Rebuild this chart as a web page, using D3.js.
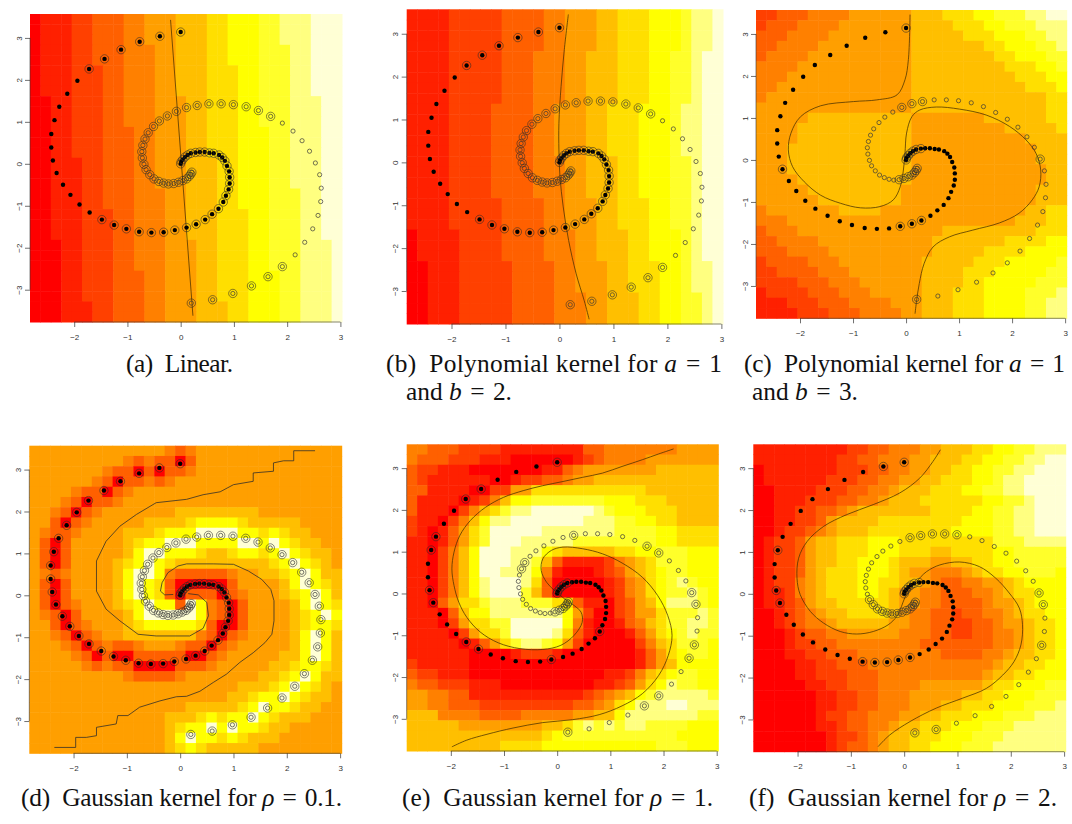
<!DOCTYPE html>
<html>
<head>
<meta charset="utf-8">
<script src="https://cdn.jsdelivr.net/npm/d3@7"></script>
<style>
body { margin: 0; background: #fff; }
.tick text { font-family: "Liberation Sans", Arial, sans-serif; font-size: 8px; fill: #333; }
.tick line { stroke: #333; stroke-width: 0.7; }
.cap { font-family: "Liberation Serif", "Times New Roman", serif; fill: #111; }
</style>
</head>
<body>
<svg id="fig" width="1072" height="824"></svg>
<script>
// R heat.colors(12), the palette image() uses
var heat = ["#FF0000","#FF2000","#FF4000","#FF6000","#FF8000","#FF9F00","#FFBF00","#FFDF00","#FFFF00","#FFFF2A","#FFFF80","#FFFFD5"];
var xExtent = [-2.83, 3.03];
var yExtent = [-3.77, 3.57];
var xTicks = [-2, -1, 0, 1, 2, 3];
var yTicks = [-3, -2, -1, 0, 1, 2, 3];

// class +1 spiral (filled dots), outer end first
var blackX = [0.00,-0.39,-0.77,-1.12,-1.43,-1.72,-1.94,-2.13,-2.28,-2.37,-2.43,-2.43,-2.40,-2.33,-2.21,-2.07,-1.90,-1.71,-1.48,-1.25,-1.02,-0.78,-0.55,-0.32,-0.11,0.11,0.29,0.46,0.59,0.71,0.80,0.85,0.90,0.92,0.92,0.91,0.87,0.83,0.78,0.72,0.62,0.54,0.45,0.36,0.28,0.19,0.13,0.08,0.04,0.01,0.00];
var blackY = [3.14,3.04,2.91,2.72,2.50,2.26,1.98,1.67,1.36,1.04,0.71,0.39,0.08,-0.22,-0.50,-0.74,-0.97,-1.16,-1.33,-1.46,-1.55,-1.62,-1.64,-1.63,-1.58,-1.52,-1.44,-1.33,-1.20,-1.07,-0.91,-0.76,-0.61,-0.47,-0.32,-0.18,-0.05,0.07,0.15,0.21,0.25,0.26,0.28,0.28,0.27,0.25,0.21,0.16,0.10,0.05,0.00];
// class -1 spiral (open circles), outer end first
var openX = [0.20,0.60,0.98,1.33,1.64,1.91,2.15,2.33,2.48,2.58,2.63,2.64,2.61,2.53,2.42,2.28,2.11,1.91,1.69,1.46,1.23,0.99,0.76,0.53,0.31,0.11,-0.08,-0.25,-0.40,-0.51,-0.61,-0.67,-0.71,-0.73,-0.72,-0.69,-0.65,-0.58,-0.50,-0.41,-0.32,-0.23,-0.13,-0.04,0.04,0.11,0.16,0.19,0.21];
var openY = [-3.32,-3.24,-3.09,-2.91,-2.69,-2.45,-2.17,-1.87,-1.55,-1.23,-0.90,-0.58,-0.26,0.02,0.30,0.55,0.78,0.97,1.13,1.27,1.36,1.41,1.43,1.43,1.39,1.34,1.25,1.14,1.02,0.89,0.74,0.59,0.44,0.29,0.14,-0.01,-0.14,-0.26,-0.36,-0.42,-0.46,-0.48,-0.47,-0.44,-0.40,-0.36,-0.30,-0.25,-0.20];

// support vectors (1 = ringed), same order as the points
var svBlackAB = "111111000000000000111111111111111111111111111111111";
var svOpenAB  = "1111110000000000001111111111111111111111111111111";
var svBlackC  = "100000000000010000000000111000000000000000001111111";
var svOpenC   = "1000000000000100000000001110000000000000001111111";
var svBlackD  = "111111111111111111111111111111111111111111111111111";
var svOpenD   = "1111111111111111111111111111111111111111111111111";
var svBlackE  = "100011001100110001100000100000100000000000000111111";
var svOpenE   = "1000110011001100011000001000001100000000000111111";
var svBlackF  = "110000000100110000000111110000000000000000001111111";
var svOpenF   = "1100000001001100000001111100000000001111111111111";

// decision value levels (index into heat), one string per grid row, top row first
var gridA = [
"011122333445556667788899aaabbb","011122333445556667788899aaabbb","011122333445556667788899aaabbb",
"0111223334445566677888999aabbb","0111223334445566677888999aabbb",
"0111222334445566677788999aabbb","0111222334445566677788999aabbb","0111222334445566677788999aabbb",
"0011222334445556677788999aaabb","0011222334445556677788999aaabb","0011222334445556677788999aaabb",
"0011222333445556677788899aaabb","0011222333445556677788899aaabb","0011222333445556677788899aaabb",
"0011122333445556667788899aaabb","0011122333445556667788899aaabb","0011122333445556667788899aaabb",
"00111223334445566677888999aabb","00111223334445566677888999aabb",
"00111222334445566677788999aabb","00111222334445566677788999aabb","00111222334445566677788999aabb",
"00011222334445556677788999aaab","00011222334445556677788999aaab","00011222334445556677788999aaab",
"00011222333445556677788899aaab","00011222333445556677788899aaab","00011222333445556677788899aaab",
"00011122333445556667788899aaab","00011122333445556667788899aaab"];
var gridB = [
"111122222333344555667778889aab","111122222333344555667778889aab","111122222333344555667778889aab","111122222333344555667778889aab",
"111122222333444556667778899abb","111122222333444556667778899abb","111122222333444556667778899abb","111122222333444556667778899abb","111122222333444556667778899abb",
"11112222333344555667778889aabb","11112222333344555667778889aabb","11112222333344555667778889aabb","11112222333344555667778889aabb","11112222333344555667778889aabb",
"111122223333444556667788899abb","111122223333444556667788899abb","111122223333444556667788899abb","111122223333444556667788899abb",
"111122222333344555667778899abb","111122222333344555667778899abb","111122222333344555667778899abb",
"011112222333344455666778889abb","011112222333344455666778889abb","011112222333344455666778889abb",
"001112222233334455566777889aab","001112222233334455566777889aab","001112222233334455566777889aab",
"0011122222333344455666778899ab","0011122222333344455666778899ab","0011122222333344455666778899ab"];
var gridC = [
"22333444455555566677788999aabb","233344445555555666677788999aaa","3334444555555556666677788899aa",
"33444455555555566666667788899a","344445555555555666666667788899","444455555555555666666666777889",
"444555555555555666666666677788","445555555555555666666666667778","455555555555555666666666666677",
"555555555555555666666666666677","555556666666666555555566666677","555566666666666555555555666667",
"555566666666666555555555556666","555666666666666555555555555666","555666666666666555555555555666",
"555666666666666555555555555566","555566666666666555555555555566","555556666666665555555555555666",
"555555666666665555555555555666","455555556666555555555555556677","444555555555555555555555566677",
"344455555555555555666666666777","334444555555555556666666777788","333444455555555556666677778888",
"233334445555555566666777888889","223333444555555566667778888899","222233344455555566667788888999",
"12222333444555556667778888999a","1112223334444555666777888899aa","1111222333444455666777888899aa"];
var gridD = [
"555555555555543455555555555555","555555555434330355555555555555","555555543303033455555555555555",
"555555430334345555555555555555","555543303455555555555555555555","555430334555555555555555555555",
"554303455555556666666655555555","553034555556666788887666665555","5433455556667888bbbb8878766555",
"5303555556788bbb8888bb8b876655","53035555568bb88876678878b87665","53035555678b8766666666678b8765",
"5434555568bb84333334556678b866","5303555568b873000003555568b876","5303555568b8730333034555678b86",
"53034555678b883b84303555568b87","54303555568bbbbb843035555678b8","553034555678888873003555567887",
"554303455666666643034555568b86","555430343345554330345555568b86","555543030033333003455555668b86",
"555554343300003334555556678876","55555555543333455555556678b866","5555555555555555555566678b8765",
"555555555555555555566788b87665","5555555555555556666678b8876655","555555555555566678788b87666555",
"55555555555556788b8b8876655555","555555555555568b88787666555555","555555555555567876666655555555"];
var gridE = [
"443332222111111113344444445555","433322211100000012344445555555","322111000000011345555555666666",
"321111110012233455666666666666","331111002255777777777776666666","311110124688999999988877766666",
"3111024679aabbbbbba98887776666","21102468aabbbbbbbaaa9988776666","21013579bbbbbaaaaaaa9999887777",
"11013579bbbaaaaa99999999887777","1102468bbbaaa87666667788999888","1102468bbbaa963111124567999888",
"1102468bbaaa841000123567899888","1102468abbba73000001245789a988","1102468abbb9630000012457899a98",
"11035779aaa99977311023568aaa98","11103688aaaaaaa8520023557999a9","1110257799bbbbb841001346799aa9",
"1111025779bbbba731000135789a99","11111013579aa98520000024679998","111111000012221000000013578998",
"211111000000000000000013568888","322111000000000000011246789988","4332221110000000001123578a9988",
"554433111111111112345689aaaaa9","5544333222222222334578aaabbaaa","666444433334444455668aaaaaaa99",
"66666555555556679a9a9aa9999888","666666666666678999999999998888","666666666777788888888888999888"];
var gridF = [
"111111111223344455666778899aaa","11111111223344455666778899aabb","0111111122233445566778899aabbb",
"011111122233445566777889aabbbb","001111222334456667778899aabbbb","00111222334456667777778899abbb",
"0011223345666666677778899aabbb","0011223566667777777788899aabbb","0012234566677777777888899aabbb",
"01223566777888777777777999aaaa","012235667778887776677778899999","012235667788876665566778899999",
"012235677788876554445677889998","012245677788776654334455678888","011245677788765544333445677888",
"011235667777765544333345567888","001234566777765443323344567788","001234456666655443322334556778",
"000123344555554443322334456778","000122334444444433333334456778","000112233344444444333344566778",
"000011223334444444444445667788","000011222333444444444456677888","000001122333444455555567788899",
"000000112233444555556677888999","00000011223344455566777888999a","000000122334445566777888999aaa",
"0000001123344566777888999aaaaa","000000012234566777888999aaaaaa","00000001233456677888999aaaaaaa"];

// decision boundaries (f = 0)
var contourA = [[-0.19,3.43],[0.23,-3.62]];
var contourB = [[0.165,3.45],[0.09,2.63],[0.03,1.77],[-0.01,0.91],[-0.01,0.29],[0.01,-0.34],[0.07,-1.04],[0.17,-1.82],[0.31,-2.6],[0.46,-3.23],[0.55,-3.66]];
var contourC = [[0.075,3.46],[0.044,2.39],[-0.02,1.91],[-0.17,1.55],[-0.55,1.43],[-0.99,1.39],[-1.61,1.29],[-1.99,1.03],[-2.17,0.64],[-2.22,0.24],[-2.14,-0.16],[-1.92,-0.52],[-1.61,-0.84],[-1.24,-1.03],[-0.86,-1.14],[-0.49,-1.11],[-0.24,-0.95],[-0.11,-0.64],[-0.05,-0.24],[-0.02,0.16],[0.01,0.64],[0.11,1.03],[0.26,1.19],[0.57,1.26],[1.01,1.21],[1.51,1.07],[1.95,0.80],[2.26,0.48],[2.45,0.16],[2.54,-0.24],[2.51,-0.64],[2.38,-0.95],[2.13,-1.27],[1.76,-1.50],[1.26,-1.67],[0.82,-1.83],[0.51,-2.07],[0.34,-2.47],[0.25,-2.94],[0.2,-3.34],[0.17,-3.66]];
var contourD1 = [[-2.36,-3.63],[-1.96,-3.63],[-1.96,-3.39],[-1.76,-3.39],[-1.57,-3.35],[-1.57,-3.15],[-1.2,-3.07],[-1.17,-2.87],[-0.98,-2.87],[-0.76,-2.67],[-0.38,-2.52],[-0.07,-2.42],[0.12,-2.41],[0.37,-2.29],[0.62,-2.08],[0.87,-1.88],[1.12,-1.6],[1.37,-1.37],[1.59,-1.13],[1.72,-0.93],[1.76,-0.61],[1.76,-0.13],[1.7,0.14],[1.53,0.38],[1.28,0.58],[1.0,0.74],[0.62,0.75],[0.12,0.75],[-0.04,0.7],[-0.23,0.54],[-0.34,0.3],[-0.37,0.1],[-0.29,0.01],[-0.13,0.02]];
var contourD2 = [[2.53,3.45],[2.13,3.45],[2.13,3.21],[1.94,3.21],[1.75,3.16],[1.75,2.96],[1.37,2.92],[1.37,2.72],[1.0,2.64],[0.75,2.47],[0.43,2.4],[0.12,2.29],[-0.45,2.21],[-0.82,1.93],[-1.13,1.65],[-1.39,1.29],[-1.57,0.82],[-1.57,0.1],[-1.39,-0.33],[-1.13,-0.61],[-0.79,-0.93],[-0.45,-0.97],[0.18,-0.97],[0.43,-0.79],[0.53,-0.49],[0.5,-0.17],[0.34,0.01],[0.15,0.04]];
var contourE = [[2.19,3.46],[1.91,3.34],[1.6,3.2],[1.22,3.04],[0.85,2.88],[0.48,2.78],[0.11,2.68],[-0.27,2.58],[-0.64,2.46],[-1.01,2.3],[-1.35,2.06],[-1.63,1.75],[-1.83,1.39],[-1.94,0.99],[-1.98,0.59],[-1.94,0.19],[-1.85,-0.21],[-1.7,-0.57],[-1.45,-0.92],[-1.11,-1.18],[-0.7,-1.32],[-0.27,-1.34],[0.07,-1.24],[0.32,-1.0],[0.47,-0.69],[0.45,-0.45],[0.32,-0.29],[0.14,-0.13],[-0.05,0.07],[-0.2,0.27],[-0.3,0.55],[-0.27,0.83],[-0.11,1.03],[0.11,1.11],[0.48,1.07],[0.85,0.95],[1.22,0.73],[1.6,0.39],[1.89,-0.05],[2.08,-0.53],[2.16,-1.0],[2.09,-1.48],[1.91,-1.96],[1.6,-2.4],[1.22,-2.69],[0.79,-2.9],[0.29,-3.02],[-0.27,-3.09],[-0.83,-3.22],[-1.32,-3.37],[-1.7,-3.51],[-1.98,-3.67]];
var contourF = [[0.68,3.44],[0.54,3.16],[0.29,2.76],[-0.08,2.41],[-0.58,2.13],[-1.08,1.89],[-1.51,1.61],[-1.82,1.25],[-1.98,0.85],[-2.01,0.37],[-1.95,-0.02],[-1.76,-0.42],[-1.51,-0.7],[-1.2,-0.9],[-0.89,-0.96],[-0.58,-0.9],[-0.3,-0.74],[-0.14,-0.54],[-0.05,-0.3],[0.01,-0.1],[0.11,0.1],[0.23,0.29],[0.42,0.53],[0.67,0.69],[1.04,0.76],[1.41,0.65],[1.72,0.37],[1.97,0.02],[2.16,-0.34],[2.22,-0.74],[2.19,-1.22],[2.06,-1.62],[1.85,-1.94],[1.54,-2.26],[1.1,-2.49],[0.6,-2.73],[0.11,-3.05],[-0.27,-3.37],[-0.49,-3.65]];

var svg = d3.select("#fig");

var panels = [
  {box: [30, 342, 14, 322],          grid: gridA, lines: [contourA], curve: d3.curveLinear,     svB: svBlackAB, svO: svOpenAB, lineColor: "#4b3200"},
  {box: [406.7, 723, 9.3, 324],      grid: gridB, lines: [contourB], curve: d3.curveCatmullRom, svB: svBlackAB, svO: svOpenAB, lineColor: "#4b3200"},
  {box: [756, 1066.7, 10, 318.3],    grid: gridC, lines: [contourC], curve: d3.curveCatmullRom, svB: svBlackC,  svO: svOpenC,  lineColor: "#4b3200"},
  {box: [29.3, 341.7, 445.7, 753.3], grid: gridD, lines: [contourD1, contourD2], curve: d3.curveLinear, svB: svBlackD, svO: svOpenD, lineColor: "#2a2a2a"},
  {box: [406.7, 718.3, 444.3, 751],  grid: gridE, lines: [contourE], curve: d3.curveCatmullRom, svB: svBlackE,  svO: svOpenE,  lineColor: "#4b3200"},
  {box: [753.3, 1065.7, 444.3, 751.7], grid: gridF, lines: [contourF], curve: d3.curveCatmullRom, svB: svBlackF, svO: svOpenF, lineColor: "#4b3200"}
];

var fmt = function(d){ return d < 0 ? "\u2212" + (-d) : String(d); };

panels.forEach(function(p){
  var g = svg.append("g");
  var x = d3.scaleLinear().domain(xExtent).range([p.box[0], p.box[1]]);
  var y = d3.scaleLinear().domain(yExtent).range([p.box[3], p.box[2]]);
  var ny = p.grid.length, nx = p.grid[0].length;
  var dx = (xExtent[1] - xExtent[0]) / nx, dy = (yExtent[1] - yExtent[0]) / ny;

  var cells = [];
  p.grid.forEach(function(row, r){
    row.split("").forEach(function(ch, c){
      cells.push({c: c, r: r, level: parseInt(ch, 16)});
    });
  });

  // the image
  g.append("g").selectAll("rect")
      .data(cells)
    .enter().append("rect")
      .attr("x", function(d){ return x(xExtent[0] + d.c * dx); })
      .attr("y", function(d){ return y(yExtent[1] - d.r * dy); })
      .attr("width", function(d){ return x(xExtent[0] + (d.c + 1) * dx) - x(xExtent[0] + d.c * dx) + 0.5; })
      .attr("height", function(d){ return y(yExtent[1] - (d.r + 1) * dy) - y(yExtent[1] - d.r * dy) + 0.5; })
      .attr("fill", function(d){ return heat[d.level]; });

  // the decision boundary
  var line = d3.line()
      .x(function(d){ return x(d[0]); })
      .y(function(d){ return y(d[1]); })
      .curve(p.curve);
  p.lines.forEach(function(l){
    g.append("path")
        .attr("d", line(l))
        .attr("fill", "none")
        .attr("stroke", p.lineColor)
        .attr("stroke-opacity", 0.85)
        .attr("stroke-width", 0.9);
  });

  // the points
  var bk = blackX.map(function(v, i){ return {x: v, y: blackY[i], sv: p.svB[i] === "1"}; });
  var op = openX.map(function(v, i){ return {x: v, y: openY[i], sv: p.svO[i] === "1"}; });

  g.append("g").selectAll("circle")
      .data(op)
    .enter().append("circle")
      .attr("cx", function(d){ return x(d.x); })
      .attr("cy", function(d){ return y(d.y); })
      .attr("r", 2.1)
      .attr("fill", "none")
      .attr("stroke", "#3a3a3a")
      .attr("stroke-width", 0.7);

  g.append("g").selectAll("circle")
      .data(bk)
    .enter().append("circle")
      .attr("cx", function(d){ return x(d.x); })
      .attr("cy", function(d){ return y(d.y); })
      .attr("r", 2.2)
      .attr("fill", "#000");

  g.append("g").selectAll("circle")
      .data(bk.concat(op).filter(function(d){ return d.sv; }))
    .enter().append("circle")
      .attr("cx", function(d){ return x(d.x); })
      .attr("cy", function(d){ return y(d.y); })
      .attr("r", 4.2)
      .attr("fill", "none")
      .attr("stroke", "#2a2a2a")
      .attr("stroke-opacity", 0.8)
      .attr("stroke-width", 0.7);

  // the axes
  var xa = g.append("g")
      .attr("transform", "translate(0," + p.box[3] + ")")
      .call(d3.axisBottom(x).tickValues(xTicks).tickSize(5).tickPadding(7).tickFormat(fmt));
  xa.select(".domain").remove();
  xa.append("line")
      .attr("x1", x(xTicks[0])).attr("x2", x(xTicks[xTicks.length - 1]))
      .attr("stroke", "#333").attr("stroke-width", 0.6);

  var ya = g.append("g")
      .attr("transform", "translate(" + p.box[0] + ",0)")
      .call(d3.axisLeft(y).tickValues(yTicks).tickSize(5).tickFormat(fmt));
  ya.select(".domain").remove();
  ya.append("line")
      .attr("y1", y(yTicks[0])).attr("y2", y(yTicks[yTicks.length - 1]))
      .attr("stroke", "#333").attr("stroke-width", 0.6);
  ya.selectAll(".tick text")
      .attr("x", 0)
      .attr("dy", null)
      .attr("text-anchor", "middle")
      .attr("transform", "translate(-8.5,0) rotate(-90)");
});

// sub-captions; w is the width the line spans in the figure (0 = leave as set)
var eq = "\u2004=\u2004";
var captionLines = [
  {x: 126, y: 372, w: 107, segs: [["(a)\u2002Linear.", 0]]},
  {x: 386, y: 372, w: 336, segs: [["(b)\u2002Polynomial kernel for ", 0], ["a", 1], [eq + "1", 0]]},
  {x: 406, y: 400, w: 0,   segs: [["and ", 0], ["b", 1], [eq + "2.", 0]]},
  {x: 744, y: 372, w: 321, segs: [["(c)\u2002Polynomial kernel for ", 0], ["a", 1], [eq + "1", 0]]},
  {x: 752, y: 400, w: 0,   segs: [["and ", 0], ["b", 1], [eq + "3.", 0]]},
  {x: 21,  y: 806, w: 321, segs: [["(d)\u2002Gaussian kernel for ", 0], ["\u03c1", 1], [eq + "0.1.", 0]]},
  {x: 402, y: 806, w: 311, segs: [["(e)\u2002Gaussian kernel for ", 0], ["\u03c1", 1], [eq + "1.", 0]]},
  {x: 749, y: 806, w: 308, segs: [["(f)\u2002Gaussian kernel for ", 0], ["\u03c1", 1], [eq + "2.", 0]]}
];

var capNodes = captionLines.map(function(c){
  var t = svg.append("text")
      .attr("class", "cap")
      .attr("x", c.x)
      .attr("y", c.y)
      .style("font-size", "18px");
  c.segs.forEach(function(s){
    t.append("tspan").text(s[0]).style("font-style", s[1] ? "italic" : "normal");
  });
  return t;
});

// one type size for all captions, fitted to the measured line widths
var ratios = [];
captionLines.forEach(function(c, i){
  if (c.w > 150) ratios.push(c.w / capNodes[i].node().getComputedTextLength());
});
var fs = 18 * d3.mean(ratios);
capNodes.forEach(function(t, i){
  t.style("font-size", fs.toFixed(2) + "px");
  if (captionLines[i].w > 0) t.attr("textLength", captionLines[i].w).attr("lengthAdjust", "spacing");
});
</script>
</body>
</html>
